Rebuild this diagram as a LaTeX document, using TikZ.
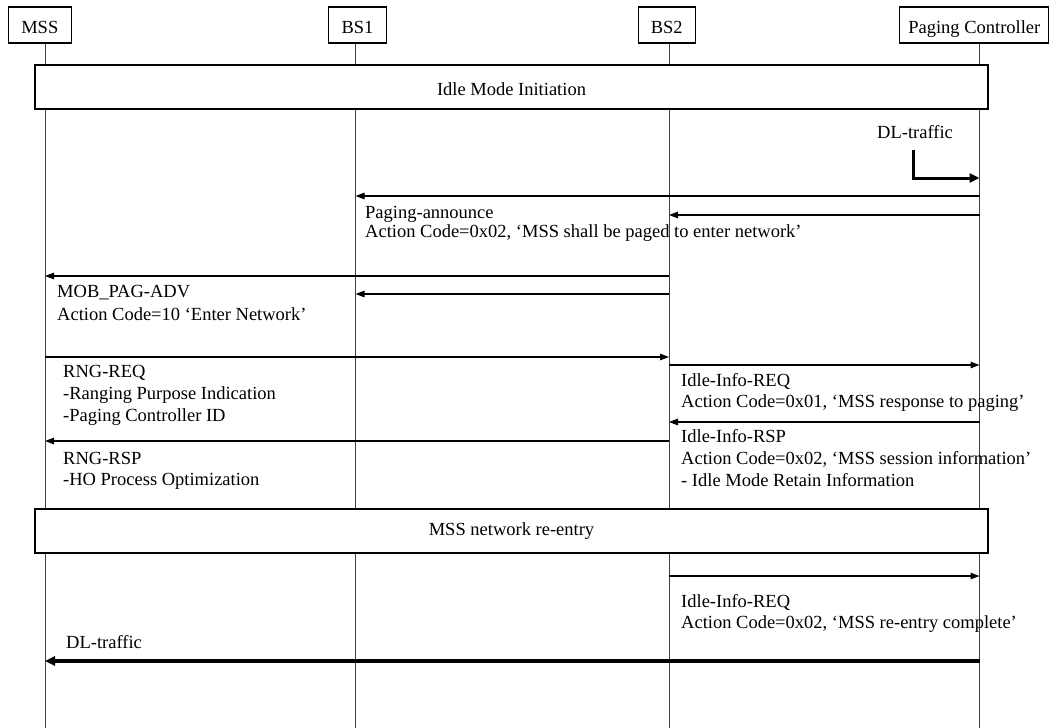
\documentclass[tikz,border=0pt]{standalone}
\usepackage{fontspec}
\setmainfont{Liberation Serif}
\usetikzlibrary{arrows.meta}
\begin{document}
\begin{tikzpicture}[x=1pt,y=-1pt,
  font=\fontsize{18.5}{21.5}\selectfont,
  hdr/.style={draw, line width=1.2pt, fill=white, minimum height=36, inner sep=0pt, text height=16pt, text depth=0pt},
  phase/.style={draw, line width=1.2pt, fill=white, minimum width=953, minimum height=44, inner sep=0pt},
  life/.style={draw=black!75, line width=1pt},
  msg/.style={line width=1.2pt, -{Triangle[length=9pt,width=6.5pt]}},
  bigmsg/.style={line width=3.2pt, -{Triangle[length=10pt,width=9pt]}},
  lbl/.style={anchor=base west, inner sep=0pt}]
\useasboundingbox (0,0) rectangle (1050,728);
% lifeline anchors
\coordinate (lm) at (45,43);
\coordinate (lb1) at (355.5,43);
\coordinate (lb2) at (669,43);
\coordinate (lp) at (979.5,43);
\coordinate (bot) at (0,728);
\draw[life] (lm) -- (lm |- bot);
\draw[life] (lb1) -- (lb1 |- bot);
\draw[life] (lb2) -- (lb2 |- bot);
\draw[life] (lp) -- (lp |- bot);
% header boxes
\node[hdr, minimum width=63] (mss) at (39.8,25) {MSS};
\node[hdr, minimum width=58] (bs1) at (357.5,25) {BS1};
\node[hdr, minimum width=57] (bs2) at (666.8,25) {BS2};
\node[hdr, minimum width=149] (pc) at (974.3,25) {Paging Controller};
% phase boxes
\node[phase, text height=16pt, text depth=0pt] (init) at (511.5,87) {Idle Mode Initiation};
\node[phase] (reentry) at (511.5,531) {MSS network re-entry};
% DL traffic arrival
\node[lbl] (dl1) at (877,138) {DL-traffic};
\coordinate (dlstart) at (913,150);
\draw[bigmsg, line width=3pt] (dlstart) -- (913,178) -- (lp |- 0,178);
% paging announce
\draw[msg] (lp |- 0,196) -- (lb1 |- 0,196);
\draw[msg] (lp |- 0,215) -- (lb2 |- 0,215);
\node[lbl] (pa1) at (365,218) {Paging-announce};
\node[lbl] (pa2) at (365,237) {Action Code=0x02, ‘MSS shall be paged to enter network’};
% MOB_PAG-ADV
\draw[msg] (lb2 |- 0,276) -- (lm |- 0,276);
\draw[msg] (lb2 |- 0,294) -- (lb1 |- 0,294);
\node[lbl] (mp1) at (57,297) {MOB\_PAG-ADV};
\node[lbl] (mp2) at (57,320) {Action Code=10 ‘Enter Network’};
% RNG-REQ
\draw[msg] (lm |- 0,357) -- (lb2 |- 0,357);
\node[lbl] (rq1) at (63,377.5) {RNG-REQ};
\node[lbl] (rq2) at (63,399.5) {-Ranging Purpose Indication};
\node[lbl] (rq3) at (63,421.5) {-Paging Controller ID};
% Idle-Info-REQ
\draw[msg] (lb2 |- 0,365) -- (lp |- 0,365);
\node[lbl] (ir1) at (681,386.5) {Idle-Info-REQ};
\node[lbl] (ir2) at (681,407.5) {Action Code=0x01, ‘MSS response to paging’};
% Idle-Info-RSP
\draw[msg] (lp |- 0,422) -- (lb2 |- 0,422);
\node[lbl] (is1) at (681,442) {Idle-Info-RSP};
\node[lbl] (is2) at (681,464) {Action Code=0x02, ‘MSS session information’};
\node[lbl] (is3) at (681,486) {- Idle Mode Retain Information};
% RNG-RSP
\draw[msg] (lb2 |- 0,441) -- (lm |- 0,441);
\node[lbl] (rs1) at (63,464) {RNG-RSP};
\node[lbl] (rs2) at (63,485.5) {-HO Process Optimization};
% re-entry complete
\draw[msg] (lb2 |- 0,576) -- (lp |- 0,576);
\node[lbl] (rc1) at (681,607) {Idle-Info-REQ};
\node[lbl] (rc2) at (681,628) {Action Code=0x02, ‘MSS re-entry complete’};
% DL traffic to MSS
\node[lbl] (dl2) at (66,648.5) {DL-traffic};
\draw[bigmsg] (lp |- 0,661) -- (lm |- 0,661);
\end{tikzpicture}
\end{document}
